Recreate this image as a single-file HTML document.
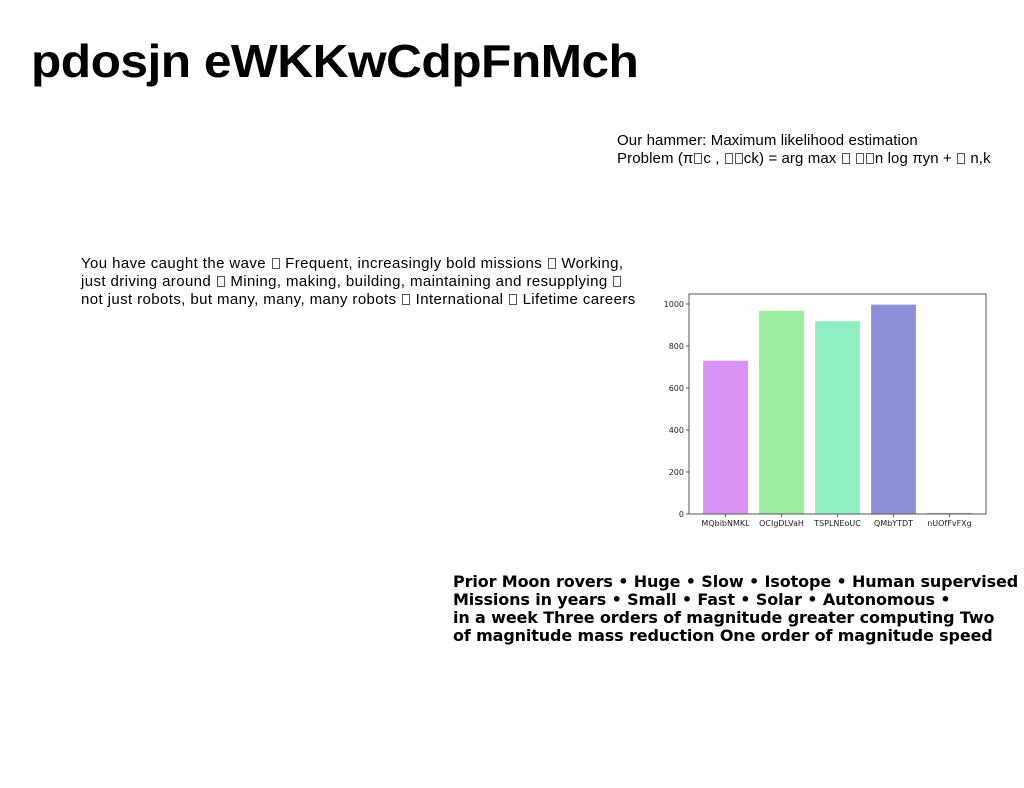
<!DOCTYPE html>
<html><head><meta charset="utf-8"><style>
body{margin:0;width:1024px;height:788px;background:#fff;position:relative;overflow:hidden;font-family:"Liberation Sans","Noto Sans CJK SC",sans-serif;}
.t{position:absolute;white-space:nowrap;color:#000}
.b{display:inline-block;width:8px;height:11px;border:1px solid #555;box-sizing:border-box;vertical-align:-1px;margin:0 1px}
</style></head><body>
<div class="t" style="left:31px;top:34px;font-size:46px;font-weight:bold;letter-spacing:-0.5px;transform:scaleX(1.08);transform-origin:left top">pdosjn eWKKwCdpFnMch</div>
<div class="t" style="left:617px;top:132px;font-size:15px;line-height:18px;letter-spacing:0.1px">Our hammer: Maximum likelihood estimation<br>Problem (π<span class="b"></span>c , <span class="b"></span><span class="b"></span>ck) = arg max <span class="b"></span> <span class="b"></span><span class="b"></span>n log πyn + <span class="b"></span> n,k</div>
<div class="t" style="left:81px;top:255px;font-size:15px;line-height:18px;letter-spacing:0.4px">You have caught the wave <span class="b"></span> Frequent, increasingly bold missions <span class="b"></span> Working,<br>just driving around <span class="b"></span> Mining, making, building, maintaining and resupplying <span class="b"></span><br>not just robots, but many, many, many robots <span class="b"></span> International <span class="b"></span> Lifetime careers</div>
<div class="t" style="left:453px;top:573px;font-size:16px;line-height:18px;font-weight:bold;font-family:'DejaVu Sans',sans-serif;letter-spacing:-0.13px">Prior Moon rovers • Huge • Slow • Isotope • Human supervised<br>Missions in years • Small • Fast • Solar • Autonomous •<br>in a week Three orders of magnitude greater computing Two<br>of magnitude mass reduction One order of magnitude speed</div>
<svg width="1024" height="788" style="position:absolute;left:0;top:0" id="chart"></svg>
<script>
const categories=["MQbibNMKL","OCIgDLVaH","TSPLNEoUC","QMbYTDT","nUOfFvFXg"];
const values=[730,968,918,997,5];
const yTicks=[0,200,400,600,800,1000];
const colors=["#d993f5","#9deb9d","#8ef0c2","#8e8fd8","#8fbf8f"];
const svg=document.getElementById('chart');
const NS='http://www.w3.org/2000/svg';
const L=689,R=986,T=294,B=514;
const y=v=>B-v*0.21;
const pad=0.652;
const step=(R-L)/(categories.length-1+2*pad);
const x=i=>L+step*(i+pad);
function mk(tag,attrs){const e=document.createElementNS(NS,tag);for(const k in attrs)e.setAttribute(k,attrs[k]);svg.appendChild(e);return e;}
categories.forEach((c,i)=>{
  const h=B-y(values[i]);
  const r=mk('rect',{x:x(i)-step*0.4,y:y(values[i]),width:step*0.8,height:Math.max(h,1),fill:colors[i]});
  
  
  const t=mk('text',{x:x(i),y:B+12,'font-size':'8','text-anchor':'middle','font-family':'DejaVu Sans,sans-serif',fill:'#222'});
  t.textContent=c;
  
  
  mk('line',{x1:x(i),x2:x(i),y1:B,y2:B+3,stroke:'#333','stroke-width':0.8});
});
yTicks.forEach(v=>{
  mk('line',{x1:L-3,x2:L,y1:y(v),y2:y(v),stroke:'#333','stroke-width':0.8});
  const t=mk('text',{x:L-5,y:y(v)+3,'font-size':'8','text-anchor':'end','font-family':'DejaVu Sans,sans-serif',fill:'#222'});
  t.textContent=v;
  
  
});
const f=mk('rect',{x:L,y:T,width:R-L,height:B-T,fill:'none',stroke:'#555','stroke-width':1});


</script>
</body></html>
